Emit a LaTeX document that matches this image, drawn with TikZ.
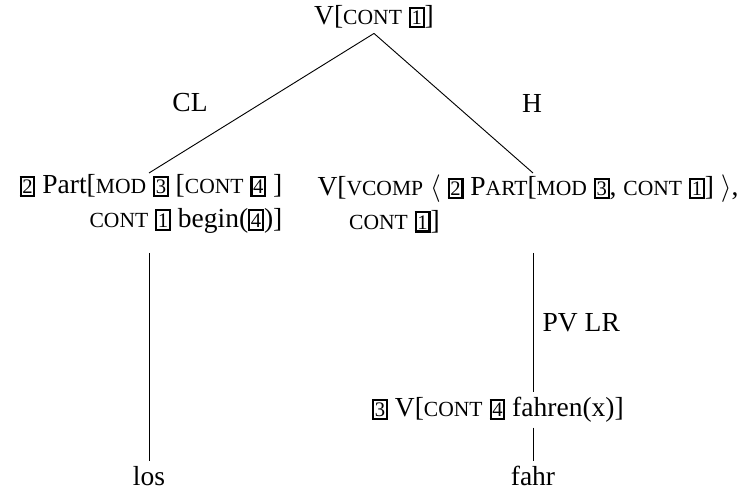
\documentclass[12pt,tikz,border=0pt]{standalone}
\usepackage{fontspec}
\setmainfont{Liberation Serif}
\newcommand\smc[1]{{\fontsize{9.4pt}{11pt}\selectfont\MakeUppercase{#1}}}
\newcommand\tagbox[1]{{\setlength\fboxsep{0.3pt}\setlength\fboxrule{0.9pt}\fbox{\raisebox{0pt}[6.6pt][0.3pt]{\fontsize{9pt}{10pt}\selectfont #1}}}}
\tikzset{
	cat/.style={inner sep=2pt},
	edgelab/.style={inner sep=2pt}
}
\begin{document}
\begin{tikzpicture}[x=0.436pt,y=-0.436pt]
	\useasboundingbox (0,0) rectangle (744,490);

	\node [cat] (top) at (374,17) {V[\smc{cont} \tagbox{1}]};
	\node [cat, align=right] (pt) at (151,204)
	{\tagbox{2} Part[\smc{mod} \tagbox{3} [\smc{cont} \tagbox{4} ]\\
		\smc{cont} \tagbox{1} begin(\tagbox{4})]};
	\node [cat, align=left] (hd) at (528,204)
	{V[\smc{vcomp} $\big\langle$ \tagbox{2} P\smc{art}[\smc{mod} \tagbox{3}, \smc{cont} \tagbox{1}] $\big\rangle$,\\
		\hspace*{1.15em}\smc{cont} \tagbox{1}]};
	\node [cat] (pv) at (498,410) {\tagbox{3} V[\smc{cont} \tagbox{4} fahren(x)]};
	\node [cat] (los) at (149,476) {los};
	\node [cat] (fahr) at (533,476) {fahr};

	\draw (top.south) -- (149,173) coordinate (clend);
	\draw (top.south) -- (533,173) coordinate (hdend);
	\node [edgelab] (cl) at (190,103) {CL};
	\node [edgelab] (h) at (532,103) {H};

	\draw (los |- 0,253) -- (los.north);
	\draw (fahr |- 0,253) -- node[right] (pvlr) {PV LR} (fahr |- pv.north);
	\draw (fahr |- pv.south) -- (fahr.north);
\end{tikzpicture}
\end{document}
